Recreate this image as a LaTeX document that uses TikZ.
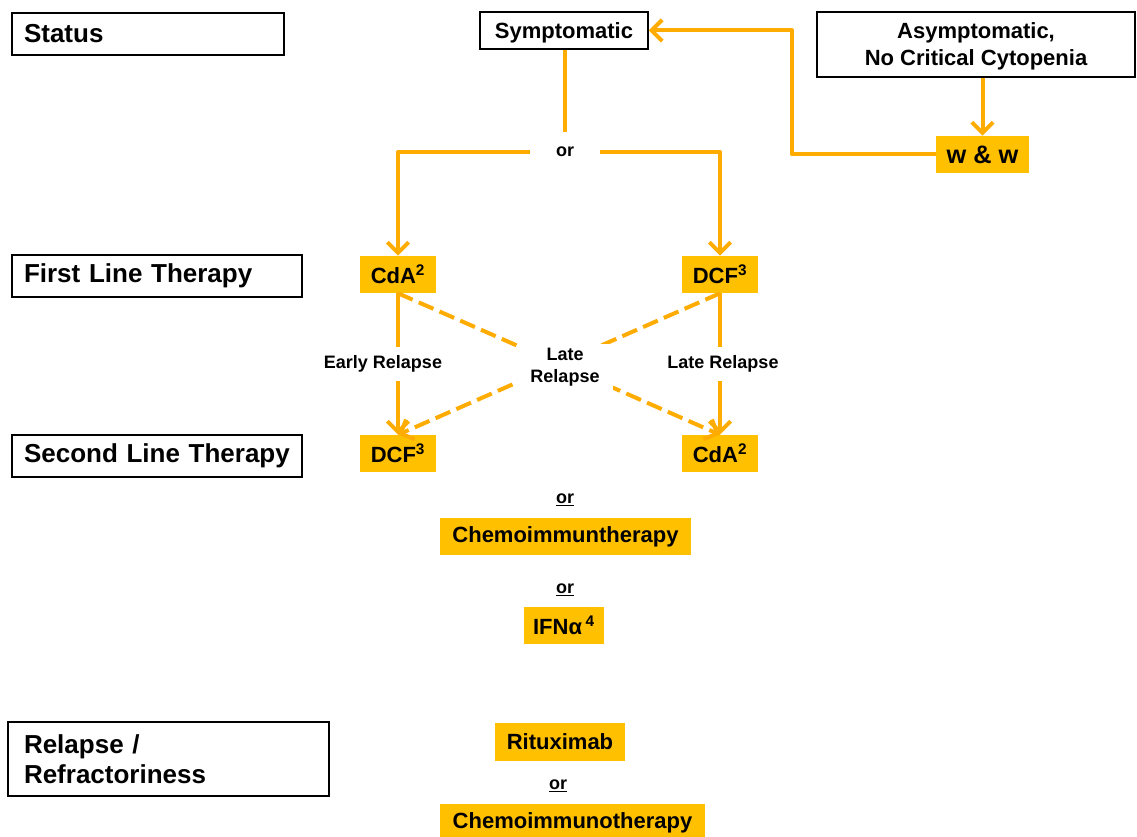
\documentclass[tikz,border=0pt]{standalone}
\usepackage{fontspec}
\setmainfont{Liberation Sans}
\usetikzlibrary{arrows.meta,calc}
\definecolor{lineor}{RGB}{255,172,0}
\definecolor{fillor}{RGB}{255,192,0}
\begin{document}
\begin{tikzpicture}[x=0.75pt,y=-0.75pt,
  font=\bfseries,
  labelbox/.style={draw=black,line width=1.1pt,align=left,inner xsep=9pt,inner ysep=0pt,font=\bfseries\fontsize{19.5}{22.5}\selectfont},
  whitebox/.style={draw=black,line width=1.1pt,align=center,inner sep=0pt,font=\bfseries\fontsize{16.5}{20.25}\selectfont},
  drug/.style={fill=fillor,inner sep=0pt,font=\bfseries\fontsize{16.5}{20}\selectfont},
  conn/.style={draw=lineor,line width=3pt,line join=round},
  arr/.style={conn,-{Straight Barb[length=8pt,width=16pt]}},
  dashconn/.style={arr,dash pattern=on 12pt off 5pt},
  small/.style={font=\bfseries\fontsize{13.5}{16.5}\selectfont,fill=white,inner sep=0pt}
]
\useasboundingbox (0,0) rectangle (1137,837);
\fill[white] (0,0) rectangle (1137,837);

% row labels
\node[labelbox, text width=186pt, minimum height=31.5pt] (status) at (148,34) {Status};
\node[labelbox, text width=199.5pt, minimum height=31.5pt] (first) at (157,276) {First Line Therapy};
\node[labelbox, text width=199.5pt, minimum height=31.5pt] (second) at (157,456) {Second Line Therapy};
\node[labelbox, inner xsep=12pt, text width=216.75pt, minimum height=55.5pt] (relapse) at (168.5,759) {Relapse /\\Refractoriness};

% white boxes
\node[whitebox, minimum width=126pt, minimum height=27.75pt, text depth=0pt] (symp) at (564,30.5) {Symptomatic};
\node[whitebox, minimum width=238.5pt, minimum height=48.75pt, text depth=0pt] (asym) at (976,44.5) {Asymptomatic,\\No Critical Cytopenia};

% therapies
\node[drug, minimum width=69.75pt, minimum height=27.75pt, font=\bfseries\fontsize{19}{22}\selectfont] (ww) at (982.5,154.5) {w \& w};
\node[drug, minimum width=57pt, minimum height=27.75pt] (cdaA) at (398,274.5) {CdA\textsuperscript{2}};
\node[drug, minimum width=57pt, minimum height=27.75pt] (dcfA) at (720,274.5) {DCF\textsuperscript{3}};
\node[drug, minimum width=57pt, minimum height=27.75pt] (dcfB) at (398,453.5) {DCF\textsuperscript{3}};
\node[drug, minimum width=57pt, minimum height=27.75pt] (cdaB) at (720,453.5) {CdA\textsuperscript{2}};
\node[drug, minimum width=188.25pt, minimum height=27.75pt] (chemoA) at (565.5,536.5) {Chemoimmuntherapy};
\node[drug, minimum width=60pt, minimum height=27.75pt] (ifn) at (564,625.5) {IFNα\,\textsuperscript{4}};
\node[drug, minimum width=97.5pt, minimum height=28.5pt] (ritux) at (560,742) {Rituximab};
\node[drug, minimum width=198.75pt, minimum height=27.75pt] (chemoB) at (572.5,822.5) {Chemoimmunotherapy};

% or labels
\node[small, minimum width=52.5pt, minimum height=30pt] (orA) at (565,152) {or};
\node[small] (orB) at (565,500) {\underline{or}};
\node[small] (orC) at (565,590) {\underline{or}};
\node[small] (orD) at (558,786) {\underline{or}};

% connectors
\draw[conn] (orA.north |- symp.south) -- (orA.north);
\draw[arr] (orA.west) -| (cdaA.north);
\draw[arr] (orA.east) -| (dcfA.north);
\draw[arr] (ww.north |- asym.south) -- (ww.north);
\coordinate (bend) at (792,0);
\draw[arr] (ww.west) -| (bend |- symp.east) -- (symp.east);

\draw[dashconn] (cdaA.south) -- (cdaB.north);
\draw[dashconn] (dcfA.south) -- (dcfB.north);
\draw[arr] (cdaA.south) -- node[small, minimum height=25.5pt, xshift=-11.25pt] (early) {Early Relapse} (dcfB.north);
\draw[arr] (dcfA.south) -- node[small, minimum height=25.5pt, xshift=2.25pt] (lateR) {Late Relapse} (cdaB.north);
\node[small, minimum width=71.25pt, minimum height=34.5pt, align=center] (late) at (565,367) {Late\\Relapse};
\end{tikzpicture}
\end{document}
